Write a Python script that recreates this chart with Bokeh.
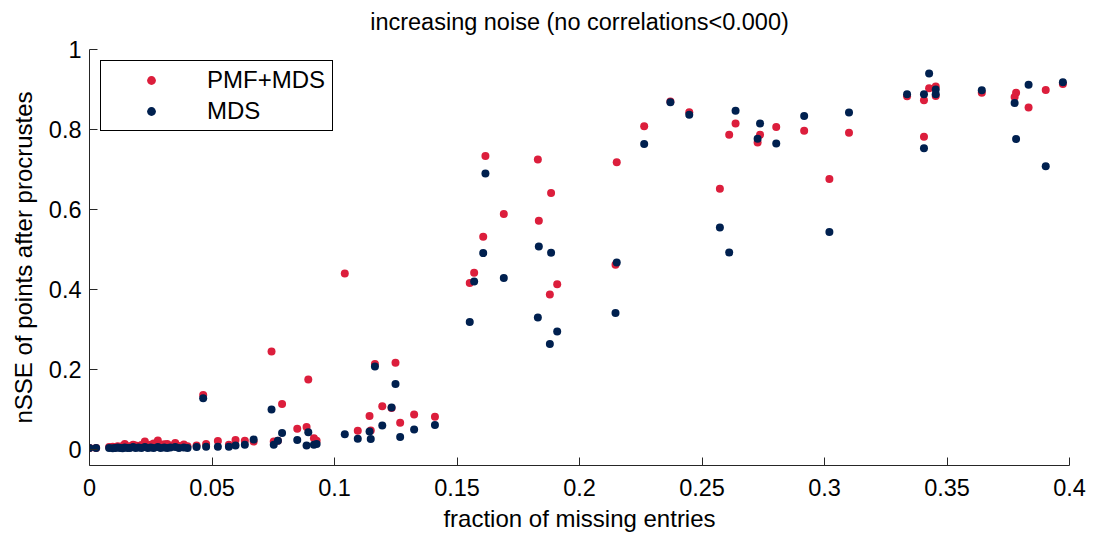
from bokeh.plotting import figure
from bokeh.models import Range1d, FixedTicker, Legend, LegendItem, ColumnDataSource, LinearAxis
from bokeh.embed import file_html
from bokeh.resources import INLINE

# fraction of missing entries (shared by both series)
frac = [0.0, 0.0027, 0.0080, 0.0095, 0.0105, 0.0115, 0.0125, 0.0135, 0.0144, 0.0155,
        0.0165, 0.0178, 0.0188, 0.0200, 0.0212, 0.0226, 0.0238, 0.0250, 0.0262, 0.0279,
        0.0290, 0.0305, 0.0317, 0.0330, 0.0350, 0.0365, 0.0385, 0.0400, 0.0437, 0.0464,
        0.0476, 0.0524, 0.0569, 0.0596, 0.0634, 0.0670, 0.0743, 0.0752, 0.0769, 0.0786,
        0.0848, 0.0886, 0.0893, 0.0916, 0.0927, 0.1042, 0.1095, 0.1143, 0.1148, 0.1165,
        0.1195, 0.1233, 0.1249, 0.1268, 0.1325, 0.1410, 0.1552, 0.1570, 0.1607, 0.1616,
        0.1691, 0.1830, 0.1834, 0.1879, 0.1884, 0.1909, 0.2147, 0.2152, 0.2264, 0.2371,
        0.2448, 0.2573, 0.2611, 0.2637, 0.2727, 0.2737, 0.2803, 0.2917, 0.3020, 0.3100,
        0.3337, 0.3406, 0.3406, 0.3427, 0.3454, 0.3454, 0.3642, 0.3776, 0.3782, 0.3833,
        0.3903, 0.3973]

pmf_mds = [0.004, 0.004, 0.006, 0.007, 0.005, 0.008, 0.006, 0.009, 0.014, 0.007,
           0.008, 0.012, 0.010, 0.009, 0.011, 0.020, 0.010, 0.012, 0.015, 0.0225,
           0.011, 0.013, 0.014, 0.010, 0.016, 0.009, 0.0125, 0.008, 0.010, 0.136,
           0.014, 0.021, 0.012, 0.024, 0.022, 0.020, 0.245, 0.020, 0.022, 0.114,
           0.052, 0.056, 0.175, 0.028, 0.022, 0.440, 0.047, 0.084, 0.0475, 0.214,
           0.108, 0.104, 0.217, 0.067, 0.0875, 0.082, 0.416, 0.442, 0.532, 0.734,
           0.589, 0.725, 0.572, 0.3875, 0.641, 0.413, 0.462, 0.718, 0.808, 0.870,
           0.843, 0.652, 0.787, 0.815, 0.7675, 0.787, 0.806, 0.797, 0.676, 0.792,
           0.883, 0.873, 0.782, 0.903, 0.9075, 0.884, 0.892, 0.881, 0.892, 0.855,
           0.899, 0.914]

mds = [0.004, 0.004, 0.004, 0.003, 0.004, 0.005, 0.004, 0.003, 0.005, 0.004,
       0.004, 0.006, 0.004, 0.005, 0.004, 0.006, 0.004, 0.005, 0.004, 0.006,
       0.004, 0.005, 0.004, 0.005, 0.006, 0.004, 0.005, 0.004, 0.006, 0.128,
       0.007, 0.007, 0.007, 0.010, 0.012, 0.025, 0.100, 0.012, 0.022, 0.041,
       0.024, 0.010, 0.043, 0.012, 0.014, 0.038, 0.027, 0.045, 0.026, 0.2075,
       0.060, 0.105, 0.164, 0.031, 0.050, 0.061, 0.319, 0.420, 0.491, 0.690,
       0.429, 0.330, 0.5075, 0.264, 0.492, 0.295, 0.341, 0.4675, 0.764, 0.868,
       0.837, 0.555, 0.4925, 0.847, 0.777, 0.815, 0.765, 0.834, 0.544, 0.8425,
       0.888, 0.888, 0.753, 0.940, 0.900, 0.888, 0.898, 0.866, 0.776, 0.912,
       0.708, 0.918]

x_ticks = [0, 0.05, 0.1, 0.15, 0.2, 0.25, 0.3, 0.35, 0.4]
x_tick_labels = ["0", "0.05", "0.1", "0.15", "0.2", "0.25", "0.3", "0.35", "0.4"]
y_ticks = [0, 0.2, 0.4, 0.6, 0.8, 1]
y_tick_labels = ["0", "0.2", "0.4", "0.6", "0.8", "1"]
title_text = "increasing noise (no correlations<0.000)"

RED = "#DC1E3C"
NAVY = "#00204F"
FONT = "Liberation Sans"
AXC = "#262626"

src = ColumnDataSource(dict(x=frac, a=pmf_mds, b=mds))

p = figure(width=1093, height=535, output_backend="svg", toolbar_location=None,
           x_range=Range1d(0, 0.4), y_range=Range1d(-0.04, 1),
           min_border_left=89, min_border_right=24, min_border_top=49,
           min_border_bottom=70)
p.outline_line_color = None
p.background_fill_color = "white"
p.border_fill_color = "white"
p.grid.visible = False

xax = p.below[0]
yax = p.left[0]
for ax, ticks, labels in ((xax, x_ticks, x_tick_labels), (yax, y_ticks, y_tick_labels)):
    ax.ticker = FixedTicker(ticks=ticks)
    ax.major_label_overrides = {t: l for t, l in zip(ticks, labels)}
    ax.major_tick_in = 8
    ax.major_tick_out = 0
    ax.minor_tick_in = 0
    ax.minor_tick_out = 0
    ax.axis_line_color = AXC
    ax.major_tick_line_color = AXC
    ax.major_label_text_font = FONT
    ax.major_label_text_font_size = "23.5px"
    ax.major_label_text_color = "black"
    ax.axis_label_text_font = FONT
    ax.axis_label_text_font_size = "24px"
    ax.axis_label_text_font_style = "normal"
    ax.axis_label_text_color = "black"

xax.axis_label = "fraction of missing entries"
yax.axis_label = "nSSE of points after procrustes"
xax.major_label_standoff = 13
xax.axis_label_standoff = 6
yax.major_label_standoff = 8
yax.axis_label_standoff = 9

# title as the label of a bare axis above the frame
top_ax = LinearAxis(ticker=FixedTicker(ticks=[]), axis_label=title_text,
                    axis_line_color=None, major_tick_line_color=None,
                    minor_tick_line_color=None, major_tick_in=0, major_tick_out=0,
                    minor_tick_in=0, minor_tick_out=0, major_label_standoff=0,
                    axis_label_standoff=15, axis_label_text_font=FONT,
                    axis_label_text_font_size="23.5px",
                    axis_label_text_font_style="normal",
                    axis_label_text_color="black")
p.add_layout(top_ax, "above")

r1 = p.scatter("x", "a", source=src, size=8, color=RED, line_color=None)
r2 = p.scatter("x", "b", source=src, size=8, color=NAVY, line_color=None)

legend = Legend(items=[LegendItem(label="PMF+MDS", renderers=[r1]),
                       LegendItem(label="MDS", renderers=[r2])],
                location=(11, 334))
legend.label_text_font = FONT
legend.label_text_font_size = "24px"
legend.label_text_color = "black"
legend.padding = 5
legend.spacing = 3
legend.glyph_height = 22
legend.glyph_width = 90
legend.label_standoff = 11
legend.label_width = 120
legend.label_height = 22
legend.margin = 0
legend.border_line_color = "black"
legend.border_line_alpha = 1
legend.border_line_width = 1
legend.background_fill_alpha = 1
p.add_layout(legend)

open("out.html", "w").write(file_html(p, INLINE))
